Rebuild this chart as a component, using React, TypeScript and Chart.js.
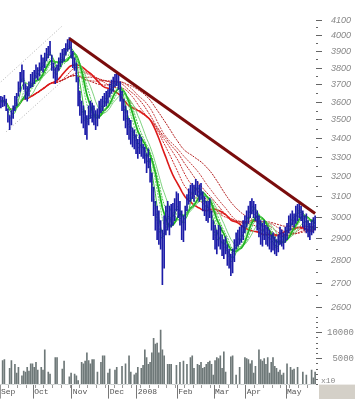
import React, { useEffect, useRef } from 'react';
import { Chart, registerables } from 'chart.js';

Chart.register(...registerables);

// ---- categories ----
const monthNames = ['Sep', 'Oct', 'Nov', 'Dec', '2008', 'Feb', 'Mar', 'Apr', 'May'];
const monthBarCounts = [19, 22, 21, 16, 23, 21, 18, 23, 17];

// ---- price series (daily high / low / close) ----
const highs = [3634,3629,3640,3618,3563,3525,3552,3579,3634,3651,
3718,3775,3820,3786,3707,3690,3718,3763,3775,3786,
3820,3803,3832,3879,3862,3891,3921,3933,3964,3879,
3832,3803,3820,3862,3891,3915,3921,3951,3976,3988,
3964,3903,3862,3832,3746,3662,3606,3579,3552,3525,
3579,3606,3595,3579,3552,3563,3606,3618,3634,3651,
3662,3673,3707,3729,3746,3763,3775,3763,3718,3662,
3618,3579,3552,3509,3498,3456,3446,3420,3394,3420,
3404,3368,3353,3318,3343,3293,3219,3147,3076,3053,
3030,2984,2939,3007,3053,3076,3053,3062,3067,3090,
3123,3114,3076,3030,3007,3053,3109,3138,3157,3166,
3157,3185,3176,3157,3166,3123,3100,3076,3076,3090,
3030,2984,2962,2939,2962,2953,2917,2895,2908,2873,
2852,2830,2852,2895,2926,2939,2953,2962,2984,3007,
3030,3053,3076,3090,3076,3062,3030,3007,2984,2971,
2984,2962,2953,2939,2917,2926,2908,2895,2917,2953,
2939,2926,2953,2971,3007,3016,3030,3016,3053,3062,
3076,3053,3030,3007,3016,2984,2971,2984,2998,3007];

const lows = [3568,3574,3579,3552,3488,3446,3472,3509,3552,3579,
3634,3662,3718,3673,3618,3606,3634,3684,3690,3707,
3740,3729,3752,3786,3775,3803,3844,3862,3879,3786,
3740,3707,3729,3786,3809,3832,3844,3879,3903,3915,
3862,3803,3786,3718,3579,3525,3482,3456,3420,3394,
3472,3509,3488,3472,3446,3467,3509,3541,3552,3574,
3579,3595,3629,3651,3662,3690,3696,3673,3606,3552,
3498,3456,3420,3394,3368,3353,3343,3318,3293,3318,
3303,3293,3268,3219,3244,3171,3076,3007,2939,2895,
2873,2852,2696,2767,2917,2939,2917,2953,2962,2984,
3030,2998,2962,2895,2886,2939,3030,3062,3076,3090,
3076,3109,3100,3076,3086,3030,3007,2984,2975,2998,
2939,2895,2852,2830,2865,2852,2822,2809,2830,2779,
2767,2734,2746,2796,2852,2865,2873,2882,2895,2926,
2953,2971,2998,3016,2998,2984,2939,2908,2873,2865,
2895,2873,2865,2852,2839,2847,2830,2822,2839,2873,
2865,2852,2882,2895,2926,2939,2962,2953,2971,2984,
2998,2984,2953,2939,2926,2908,2895,2917,2926,2939];

const closes = [3606,3600,3618,3563,3509,3472,3541,3568,3618,3629,
3690,3746,3775,3707,3651,3662,3696,3740,3718,3763,
3797,3775,3809,3856,3832,3868,3903,3915,3891,3803,
3763,3729,3797,3844,3868,3891,3903,3927,3951,3964,
3879,3832,3820,3740,3618,3552,3525,3498,3456,3488,
3563,3552,3520,3509,3488,3530,3574,3595,3606,3629,
3640,3651,3684,3707,3718,3729,3718,3696,3629,3579,
3530,3488,3446,3472,3404,3420,3368,3353,3318,3394,
3343,3333,3293,3244,3268,3195,3100,3030,2984,2939,
2917,2895,2873,2984,3016,2971,2998,3030,3007,3053,
3076,3030,2984,2939,2971,3030,3090,3119,3138,3123,
3147,3166,3119,3138,3100,3053,3030,3007,3053,3030,
2953,2917,2873,2895,2917,2865,2852,2873,2839,2809,
2796,2779,2830,2873,2908,2895,2926,2917,2953,2984,
3007,3030,3062,3053,3044,3007,2984,2939,2895,2926,
2917,2908,2891,2873,2882,2865,2852,2839,2895,2926,
2895,2908,2935,2953,2984,2998,3007,2989,3030,3044,
3053,2998,2984,2971,2962,2939,2917,2953,2971,2962];

// ---- volume series ----
const volumes = [0,4600,4800,0,0,3150,4600,0,3900,2200,
3300,0,1700,2600,2400,3300,2600,4000,4000,3300,
4300,2800,0,3300,2800,6700,0,2400,2000,0,
0,5200,5200,0,0,3000,4500,0,0,1500,
2200,0,2000,1700,750,0,4300,4000,4500,6100,
4600,4000,4800,4800,0,2400,0,4300,5550,5550,
0,2200,3000,0,0,2800,3300,0,0,3500,
0,4000,0,5550,2400,0,1900,2200,3300,0,
3150,3700,6700,5200,3900,4300,6100,8900,7800,8000,
6100,10500,6700,5550,0,3900,3900,3900,0,0,
3700,0,4300,0,4500,0,3900,0,5200,5550,
3150,0,3900,3700,4300,3150,3300,3900,4300,4500,
3900,1850,4600,5200,5000,5550,3150,6300,2400,0,
0,5350,5550,0,1850,0,3300,0,0,5200,
5000,4800,4000,4600,2200,3500,0,6700,4800,4500,
5000,3900,5200,2200,4300,5200,3500,3150,2400,2800,
1850,2200,0,4000,0,3300,2800,3000,0,3300,
0,0,2400,0,1850,0,0,2800,1300,2400];

// ---- axis ticks ----
const priceTickValues = [4100, 4050, 4000, 3950, 3900, 3850, 3800, 3750, 3700, 3650, 3600, 3550, 3500, 3450, 3400, 3350, 3300, 3250, 3200, 3150, 3100, 3050, 3000, 2950, 2900, 2850, 2800, 2750, 2700, 2650, 2600];
const volumeTickValues = [0, 1000, 2000, 3000, 4000, 5000, 6000, 7000, 8000, 9000, 10000, 11000, 12000, 13000];
const volumeLabelValues = [5000, 10000];

// ---- moving average groups (periods in bars) ----
const shortPeriods = [3, 5, 8, 10, 12, 15];
const longPeriods = [30, 35, 40, 45, 50, 60];

// ---- drawn trend lines (bar index, price) ----
const trendIndex = [39, 179];
const trendValue = [3983, 3018];
const channelUpperIndex = [0, 35];
const channelUpperValue = [3718, 4063];
const channelLowerIndex = [3, 35];
const channelLowerValue = [3435, 3723];

function movingAverage(src: number[], period: number): number[] {
  return src.map((_, i) => {
    const s = Math.max(0, i - period + 1);
    let sum = 0;
    for (let j = s; j <= i; j++) sum += src[j];
    return sum / (i - s + 1);
  });
}

function sparse(n: number, idx: number[], vals: number[]) {
  const out: (number | null)[] = new Array(n).fill(null);
  idx.forEach((ix, j) => (out[ix] = vals[j]));
  return out;
}

export default function App() {
  const ref = useRef<HTMLCanvasElement | null>(null);

  useEffect(() => {
    if (!ref.current) return;
    const labels: string[] = [];
    const monthStartLabel: Record<number, string> = {};
    monthNames.forEach((m, mi) => {
      monthStartLabel[labels.length] = m;
      for (let d = 0; d < monthBarCounts[mi]; d++) labels.push(m + ' ' + (d + 1));
    });
    const n = labels.length;

    const greenColors = ['#5fcf5f', '#3fbf3f', '#6ad86a', '#22b422', '#4cc44c', '#7fd27f'];
    const redColors = ['#dd1a1a', '#cc2b2b', '#c83232', '#bb2020', '#c43c3c', '#b01818'];

    const lineBase = { type: 'line' as const, yAxisID: 'y', pointRadius: 0, tension: 0, fill: false, borderJoinStyle: 'round' as const };

    const longSets = longPeriods.map((p, i) => ({
      ...lineBase,
      data: movingAverage(closes, p),
      borderColor: redColors[i],
      borderWidth: i === 0 ? 1.6 : 1,
      borderDash: i === 0 ? [] : [2, 1],
      order: 5,
    }));
    const shortSets = shortPeriods.map((p, i) => ({
      ...lineBase,
      data: movingAverage(closes, p),
      borderColor: greenColors[i],
      borderWidth: i === 3 ? 1.8 : 1,
      borderDash: i % 2 === 0 ? [2, 1] : [],
      order: 4,
    }));

    const chart = new Chart(ref.current, {
      type: 'bar',
      data: {
        labels,
        datasets: [
          {
            type: 'bar',
            yAxisID: 'y',
            data: lows.map((l, i) => [l, highs[i]]),
            backgroundColor: '#1c1ca8',
            barThickness: 1,
            grouped: false,
            order: 2,
          } as any,
          {
            type: 'bar',
            yAxisID: 'yv',
            data: volumes,
            backgroundColor: '#6e7878',
            barThickness: 1,
            grouped: false,
            order: 9,
          } as any,
          ...longSets,
          ...shortSets,
          {
            ...lineBase,
            data: sparse(n, channelUpperIndex, channelUpperValue),
            spanGaps: true,
            borderColor: '#b0b0b0',
            borderWidth: 1,
            borderDash: [1, 2],
            order: 8,
          },
          {
            ...lineBase,
            data: sparse(n, channelLowerIndex, channelLowerValue),
            spanGaps: true,
            borderColor: '#b0b0b0',
            borderWidth: 1,
            borderDash: [1, 2],
            order: 8,
          },
          {
            ...lineBase,
            data: sparse(n, trendIndex, trendValue),
            spanGaps: true,
            borderColor: '#7a0c0c',
            borderWidth: 3,
            order: 1,
          },
        ] as any,
      },
      options: {
        responsive: false,
        maintainAspectRatio: false,
        animation: false,
        events: [],
        layout: { padding: 0 },
        plugins: { legend: { display: false }, tooltip: { enabled: false } },
        scales: {
          x: {
            type: 'category',
            offset: true,
            border: { display: false },
            grid: {
              offset: true,
              drawOnChartArea: false,
              drawTicks: true,
              tickLength: 14,
              tickWidth: 1,
              tickColor: (c: any) => (monthStartLabel[c.index] !== undefined && c.index > 0 ? '#777' : c.index % 5 === 0 ? '#999' : 'rgba(0,0,0,0)'),
              tickBorderDash: (c: any) => (monthStartLabel[c.index] !== undefined ? [] : [3, 30]),
            },
            ticks: {
              autoSkip: false,
              maxRotation: 0,
              minRotation: 0,
              align: 'start',
              padding: -12,
              color: '#555',
              font: { family: '"Liberation Mono", monospace', size: 8 },
              callback: (_v: any, i: number) => monthStartLabel[i] ?? '',
            },
            afterFit: (s: any) => { s.height = 14; },
          },
          y: {
            type: 'logarithmic',
            position: 'right',
            stack: 'main',
            stackWeight: 312,
            min: 2571.5,
            max: 4137.7,
            border: { display: false },
            grid: {
              drawOnChartArea: false,
              tickLength: 6,
              tickColor: '#666',
              tickBorderDash: (c: any) => (c.tick && c.tick.value % 100 !== 0 ? [2, 10] : []),
            },
            afterBuildTicks: (s: any) => { s.ticks = priceTickValues.map((v) => ({ value: v })); },
            afterFit: (s: any) => { s.width = 39; },
            ticks: {
              autoSkip: false,
              padding: 9,
              color: '#888',
              font: { family: '"Liberation Sans", sans-serif', size: 9, style: 'italic' },
              callback: (v: any) => (Number(v) % 100 === 0 ? String(v) : ''),
            },
          },
          yv: {
            type: 'linear',
            position: 'right',
            stack: 'main',
            stackWeight: 73,
            min: 0,
            max: 13500,
            border: { display: false },
            grid: {
              drawOnChartArea: false,
              tickLength: 6,
              tickColor: '#666',
              tickBorderDash: (c: any) => (c.tick && volumeLabelValues.includes(c.tick.value) ? [] : [2, 10]),
            },
            afterBuildTicks: (s: any) => { s.ticks = volumeTickValues.map((v) => ({ value: v })); },
            afterFit: (s: any) => { s.width = 39; },
            ticks: {
              autoSkip: false,
              padding: 5,
              color: '#888',
              font: { family: '"Liberation Mono", monospace', size: 9 },
              callback: (v: any) => (volumeLabelValues.includes(Number(v)) ? String(v).padStart(5, ' ') : ''),
            },
          },
        },
      } as any,
      plugins: [
        {
          id: 'decor',
          afterDraw(c: any) {
            const ctx = c.ctx;
            const a = c.chartArea;
            ctx.save();
            ctx.fillStyle = '#d4d0c8';
            ctx.fillRect(a.right + 3, a.bottom, c.width - a.right - 3, c.height - a.bottom);
            ctx.fillStyle = '#888';
            ctx.font = '8px "Liberation Mono", monospace';
            ctx.textBaseline = 'bottom';
            ctx.fillText('x10', a.right + 5, a.bottom);
            ctx.restore();
          },
        },
      ],
    });
    return () => chart.destroy();
  }, []);

  return (
    <div style={{ position: 'absolute', left: 0, top: 0, width: 355, height: 399, background: '#fff' }}>
      <canvas ref={ref} width={355} height={399} style={{ display: 'block' }} />
    </div>
  );
}
